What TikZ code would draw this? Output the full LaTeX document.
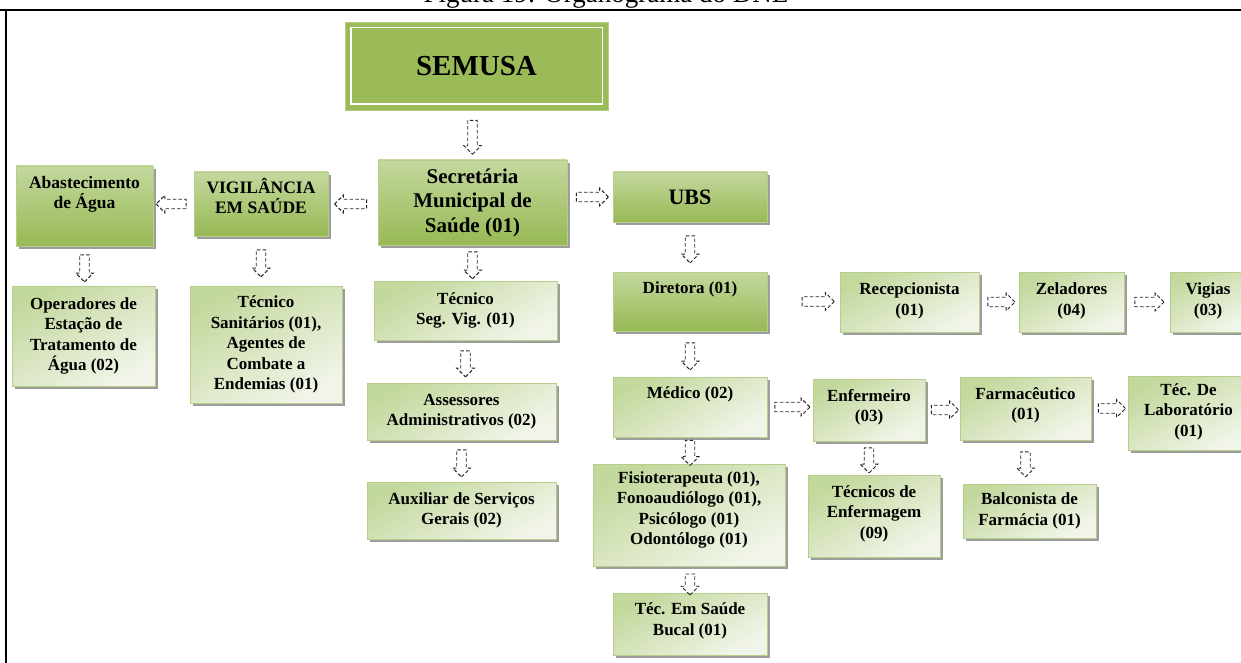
\documentclass[tikz,border=0pt]{standalone}
\usepackage{fontspec}
\setmainfont{Liberation Serif}
\usetikzlibrary{shapes.arrows,shadows}
\definecolor{semgreen}{HTML}{9BBB59}
\definecolor{darktop}{HTML}{C4D89E}
\definecolor{darkbot}{HTML}{97B954}
\definecolor{lighttop}{HTML}{C3D89D}
\definecolor{lightbot}{HTML}{F1F5E9}
\definecolor{boxline}{HTML}{B7CE8B}
\begin{document}
\begin{tikzpicture}[x=1pt,y=-1pt,
  orgbox/.style={rectangle, draw=boxline, line width=.6pt, align=center, inner sep=2pt,
    font=\bfseries\fontsize{17}{20.5}\selectfont,
    drop shadow={shadow xshift=3pt, shadow yshift=-3pt, fill=black!55, opacity=.7}},
  dkbox/.style={orgbox, top color=darktop, bottom color=darkbot},
  ltbox/.style={orgbox, top color=lighttop, bottom color=lightbot, shading angle=30},
  wh/.style 2 args={minimum width=#1pt, minimum height=#2pt},
  txtup/.style={text depth=#1pt},
  darrow/.style={single arrow, draw=black!85, dash pattern=on 3.5pt off 2.2pt, line width=.9pt,
    inner xsep=0pt, inner ysep=4.3pt, single arrow head extend=4pt, minimum height=#1pt,
    sloped, allow upside down}]
% Organograma SEMUSA
\useasboundingbox (0,0) rectangle (1241,663);
\node[anchor=base, font=\fontsize{27}{30}\selectfont] (cap) at (606,3) {Figura 19: Organograma do DNE};
\draw[line width=2pt] (0,10) -- (1241,10);
\draw[line width=2pt] (5.5,10) -- (5.5,663);

\node[rectangle, fill=semgreen, draw=boxline, wh={263}{88},
  font=\bfseries\fontsize{29}{33}\selectfont] (semusa) at (476.5,66) {SEMUSA};
\draw[white, line width=1.4pt] ([xshift=6pt,yshift=-6pt]semusa.north west)
  rectangle ([xshift=-6pt,yshift=6pt]semusa.south east);

\node[dkbox, wh={189}{85}, font=\bfseries\fontsize{21}{24.5}\selectfont] (sec) at (472.5,202.5)
  {Secretária\\Municipal de\\Saúde (01)};
\node[dkbox, wh={154}{50}, font=\bfseries\fontsize{22}{25}\selectfont] (ubs) at (690,197) {UBS};
\node[dkbox, wh={134}{64}, txtup=16, font=\bfseries\fontsize{17.5}{19.5}\selectfont] (vig) at (261,204)
  {VIGILÂNCIA\\EM SAÚDE};
\node[dkbox, wh={137}{80}, txtup=27, font=\bfseries\fontsize{17.5}{20}\selectfont] (aba) at (84.5,206)
  {Abastecimento\\de Água};
\node[dkbox, wh={154}{59}, txtup=27] (dir) at (690,301.5) {Diretora (01)};

\node[ltbox, wh={143}{100}] (ope) at (83.5,336) {Operadores de\\Estação de\\Tratamento de\\Água (02)};
\node[ltbox, wh={152}{117}] (tsan) at (266,344.5)
  {Técnico\\Sanitários (01),\\Agentes de\\Combate a\\Endemias (01)};
\node[ltbox, wh={183}{59}] (tseg) at (465.5,310.5) {Técnico\\Seg. Vig. (01)};
\node[ltbox, wh={189}{57}] (ass) at (461.5,411.5) {Assessores\\Administrativos (02)};
\node[ltbox, wh={189}{57}] (aux) at (461.5,510.5) {Auxiliar de Serviços\\Gerais (02)};
\node[ltbox, wh={154}{60}, txtup=28] (med) at (690,407) {Médico (02)};
\node[ltbox, wh={192}{102}, txtup=14] (fis) at (689,515)
  {Fisioterapeuta (01),\\Fonoaudiólogo (01),\\Psicólogo (01)\\Odontólogo (01)};
\node[ltbox, wh={154}{62}, txtup=10] (buc) at (690,624) {Téc. Em Saúde\\Bucal (01)};
\node[ltbox, wh={139}{60}, txtup=6] (rec) at (909.5,302) {Recepcionista\\(01)};
\node[ltbox, wh={105}{60}, txtup=6] (zel) at (1071.5,302) {Zeladores\\(04)};
\node[ltbox, wh={76}{60}, txtup=6] (vgs) at (1208,302) {Vigias\\(03)};
\node[ltbox, wh={112}{62}, txtup=9] (enf) at (869,410) {Enfermeiro\\(03)};
\node[ltbox, wh={131}{63}, txtup=10] (far) at (1025.5,408.5) {Farmacêutico\\(01)};
\node[ltbox, wh={121}{74}, txtup=6] (lab) at (1188.5,413) {Téc. De\\Laboratório\\(01)};
\node[ltbox, wh={132}{82}, txtup=8] (tenf) at (874,516) {Técnicos de\\Enfermagem\\(09)};
\node[ltbox, wh={133}{54}] (bal) at (1029.5,511) {Balconista de\\Farmácia (01)};

\path (sec.north |- semusa.south) -- (sec.north) node[darrow=34, pos=.5] {};
\path (sec.west |- vig) -- (vig.east) node[darrow=32, pos=.5] {};
\path (vig.west) -- (aba.east |- vig.west) node[darrow=30, pos=.5] {};
\path (sec.east |- ubs) -- (ubs.west) node[darrow=32, pos=.5] {};
\path (aba.south) -- (aba.south |- ope.north) node[darrow=27, pos=.5] {};
\path (vig.south) -- (vig.south |- tsan.north) node[darrow=27, pos=.5] {};
\path (sec.south) -- (sec.south |- tseg.north) node[darrow=27, pos=.5] {};
\path (tseg.south) -- (tseg.south |- ass.north) node[darrow=26, pos=.5] {};
\path (ass.south) -- (ass.south |- aux.north) node[darrow=27, pos=.5] {};
\path (ubs.south) -- (dir.north) node[darrow=27, pos=.5] {};
\path (dir.south) -- (med.north) node[darrow=27, pos=.5] {};
\path (med.south) -- (med.south |- fis.north) node[darrow=25, pos=.5] {};
\path (buc.north |- fis.south) -- (buc.north) node[darrow=21, pos=.6] {};
\path (dir.east) -- (dir.east -| rec.west) node[darrow=32, pos=.67] {};
\path (rec.east) -- (rec.east -| zel.west) node[darrow=27, pos=.5] {};
\path (zel.east) -- (zel.east -| vgs.west) node[darrow=29, pos=.5] {};
\path (med.east) -- (med.east -| enf.west) node[darrow=35, pos=.5] {};
\path (enf.east) -- (enf.east -| far.west) node[darrow=27, pos=.5] {};
\path (far.east) -- (far.east -| lab.west) node[darrow=27, pos=.5] {};
\path (enf.south) -- (enf.south |- tenf.north) node[darrow=25, pos=.5] {};
\path (far.south) -- (far.south |- bal.north) node[darrow=25, pos=.5] {};
\end{tikzpicture}
\end{document}
